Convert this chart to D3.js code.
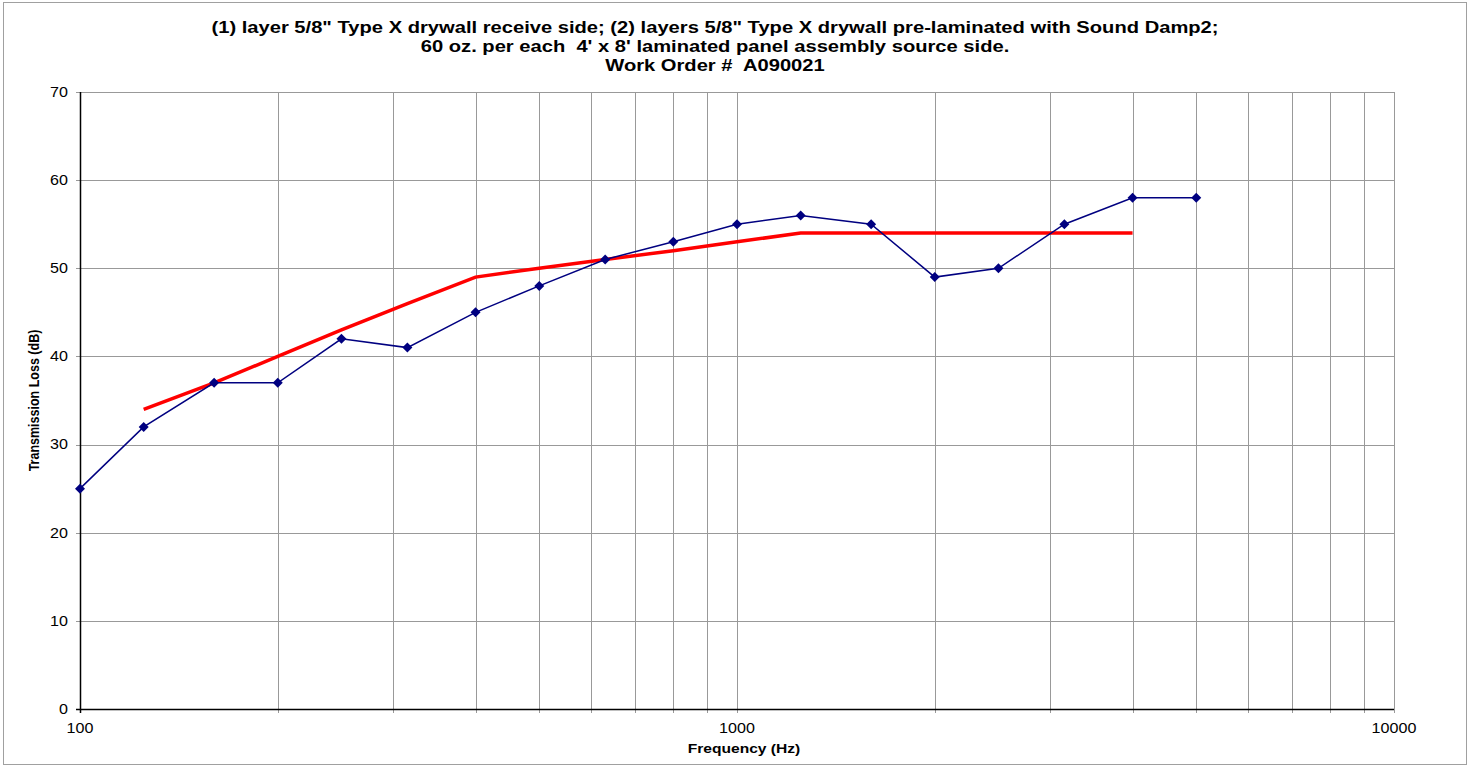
<!DOCTYPE html>
<html>
<head>
<meta charset="utf-8">
<script src="https://cdn.jsdelivr.net/npm/d3@7"></script>
<style>
  body { margin: 0; background: #fff; }
  svg { display: block; font-family: "Liberation Sans", Arial, sans-serif; }
  text { white-space: pre; }
</style>
</head>
<body>
<svg id="chart" width="1470" height="767"></svg>
<script>
// data
const freqs = [100, 125, 160, 200, 250, 315, 400, 500, 630, 800, 1000, 1250, 1600, 2000, 2500, 3150, 4000, 5000];
const transLoss = [25, 32, 37, 37, 42, 41, 45, 48, 51, 53, 55, 56, 55, 49, 50, 55, 58, 58];
const stcFreqs = [125, 160, 200, 250, 315, 400, 500, 630, 800, 1000, 1250, 1600, 2000, 2500, 3150, 4000];
const stcCurve = [34, 37, 40, 43, 46, 49, 50, 51, 52, 53, 54, 54, 54, 54, 54, 54];
const yTicks = [0, 10, 20, 30, 40, 50, 60, 70];
const xLabelTicks = [100, 1000, 10000];
const titleLines = [
  "(1) layer 5/8\" Type X drywall receive side; (2) layers 5/8\" Type X drywall pre-laminated with Sound Damp2;",
  "60 oz. per each  4' x 8' laminated panel assembly source side.",
  "Work Order #  A090021"
];

const svg = d3.select("#chart");
const margin = {top: 92, right: 76, bottom: 58, left: 80};
const width = 1470 - margin.left - margin.right;
const height = 767 - margin.top - margin.bottom;

// text in the original is a bit wider than normal
const stretch = (sx) => (d, i, n) => {
  const el = d3.select(n[i]);
  return `translate(${el.attr("data-x")},${el.attr("data-y")}) scale(${sx},1)`;
};

// outer frame
svg.append("rect")
  .attr("x", 3.5).attr("y", 2.5)
  .attr("width", 1463).attr("height", 762)
  .attr("fill", "none").attr("stroke", "#a0a0a0");

const g = svg.append("g").attr("transform", `translate(${margin.left},${margin.top})`);

const x = d3.scaleLog().domain([100, 10000]).range([0, width]);
const y = d3.scaleLinear().domain([0, 70]).range([height, 0]);

// minor log gridlines
const gridX = [];
[100, 1000].forEach(d => { for (let k = 1; k <= 10; k++) gridX.push(d * k); });

g.append("g").selectAll("line")
  .data(gridX.filter(d => d > 100 && d <= 10000))
  .join("line")
  .attr("x1", d => Math.round(x(d)) + 0.5).attr("x2", d => Math.round(x(d)) + 0.5)
  .attr("y1", 0).attr("y2", height + 4)
  .attr("stroke", "#999").attr("stroke-width", 1);

g.append("g").selectAll("line")
  .data(yTicks.filter(d => d > 0))
  .join("line")
  .attr("x1", -4).attr("x2", width)
  .attr("y1", d => Math.round(y(d)) + 0.5).attr("y2", d => Math.round(y(d)) + 0.5)
  .attr("stroke", "#999").attr("stroke-width", 1);

// axes lines
g.append("line").attr("x1", 0.5).attr("x2", 0.5).attr("y1", 0).attr("y2", height + 4)
  .attr("stroke", "#000").attr("stroke-width", 1.5);
g.append("line").attr("x1", -4).attr("x2", width).attr("y1", height + 0.5).attr("y2", height + 0.5)
  .attr("stroke", "#000").attr("stroke-width", 1.5);

// tick labels
g.append("g").selectAll("text")
  .data(yTicks)
  .join("text")
  .attr("data-x", -12).attr("data-y", d => y(d))
  .attr("transform", stretch(1.15))
  .attr("dy", "0.35em")
  .attr("text-anchor", "end")
  .attr("font-size", 14)
  .text(d => d);

g.append("g").selectAll("text")
  .data(xLabelTicks)
  .join("text")
  .attr("data-x", d => x(d)).attr("data-y", height + 24)
  .attr("transform", stretch(1.15))
  .attr("text-anchor", "middle")
  .attr("font-size", 14)
  .text(d => d);

// axis titles
g.append("text")
  .attr("data-x", width / 2 + 7).attr("data-y", height + 44)
  .attr("transform", stretch(1.2))
  .attr("text-anchor", "middle")
  .attr("font-size", 13).attr("font-weight", "bold")
  .text("Frequency (Hz)");

g.append("text")
  .attr("transform", `translate(-41,${height / 2}) scale(1.15,1) rotate(-90)`)
  .attr("text-anchor", "middle")
  .attr("font-size", 12.5).attr("font-weight", "bold")
  .text("Transmission Loss (dB)");

// title
svg.append("g").selectAll("text")
  .data(titleLines)
  .join("text")
  .attr("data-x", 715).attr("data-y", (d, i) => 33 + i * 19)
  .attr("transform", stretch(1.26))
  .attr("text-anchor", "middle")
  .attr("font-size", 16).attr("font-weight", "bold")
  .text(d => d);

// STC contour
const stcLine = d3.line().x(d => x(d[0])).y(d => y(d[1]));
g.append("path")
  .datum(d3.zip(stcFreqs, stcCurve))
  .attr("fill", "none")
  .attr("stroke", "#ff0000")
  .attr("stroke-width", 3.5)
  .attr("d", stcLine);

// measured transmission loss
const tl = d3.zip(freqs, transLoss);
g.append("path")
  .datum(tl)
  .attr("fill", "none")
  .attr("stroke", "#000080")
  .attr("stroke-width", 1.5)
  .attr("d", stcLine);

g.append("g").selectAll("path")
  .data(tl)
  .join("path")
  .attr("transform", d => `translate(${x(d[0])},${y(d[1])})`)
  .attr("d", "M0,-5L5,0L0,5L-5,0Z")
  .attr("fill", "#000080");
</script>
</body>
</html>
